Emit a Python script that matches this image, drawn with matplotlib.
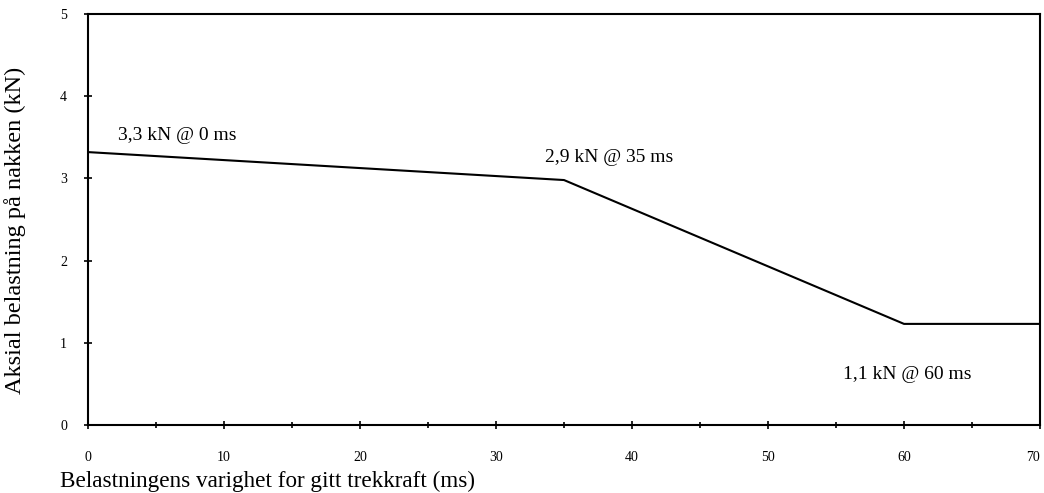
import matplotlib
matplotlib.use("Agg")
import matplotlib.pyplot as plt
from matplotlib.ticker import MultipleLocator

# Data
time_ms = [0, 35, 60, 70]
load_kn = [3.32, 2.98, 1.23, 1.23]

annot_texts = ["3,3 kN @ 0 ms", "2,9 kN @ 35 ms", "1,1 kN @ 60 ms"]
annot_x = [2.2, 33.6, 55.5]
annot_y = [3.52, 3.26, 0.61]

x_ticks = [0, 10, 20, 30, 40, 50, 60, 70]
y_ticks = [0, 1, 2, 3, 4, 5]

xlabel = "Belastningens varighet for gitt trekkraft (ms)"
ylabel = "Aksial belastning på nakken (kN)"

plt.rcParams['font.family'] = ['Liberation Serif', 'DejaVu Serif']

fig = plt.figure(figsize=(10.44, 4.93), dpi=100)
ax = fig.add_axes([88/1044, 68/493, (1040-88)/1044, (425-14)/493])

ax.plot(time_ms, load_kn, color='black', lw=1.5)

ax.set_xlim(0, 70)
ax.set_ylim(0, 5)
ax.set_xticks(x_ticks)
ax.set_yticks(y_ticks)
ax.xaxis.set_minor_locator(MultipleLocator(5))
ax.tick_params(axis='both', which='major', direction='inout', length=6, width=1.2,
               labelsize=10, colors='black')
ax.tick_params(axis='x', which='major', pad=16)
ax.tick_params(axis='y', which='major', pad=12)
ax.tick_params(axis='x', which='minor', direction='inout', length=5, width=1.2)

for s in ax.spines.values():
    s.set_linewidth(1.5)
    s.set_color('black')

for t, x, y in zip(annot_texts, annot_x, annot_y):
    ax.text(x, y, t, fontsize=14, ha='left', va='center', color='black')

fig.canvas.draw()
ax.get_xticklabels()[-1].set_horizontalalignment('right')

fig.text(60/1044, 1 - 481/493, xlabel, fontsize=16.7, ha='left', va='center')
fig.text(15/1044, 1 - 230/493, ylabel, fontsize=17.5, ha='center', va='center',
         rotation=90)

fig.savefig("out.png", dpi=100, facecolor='white')
